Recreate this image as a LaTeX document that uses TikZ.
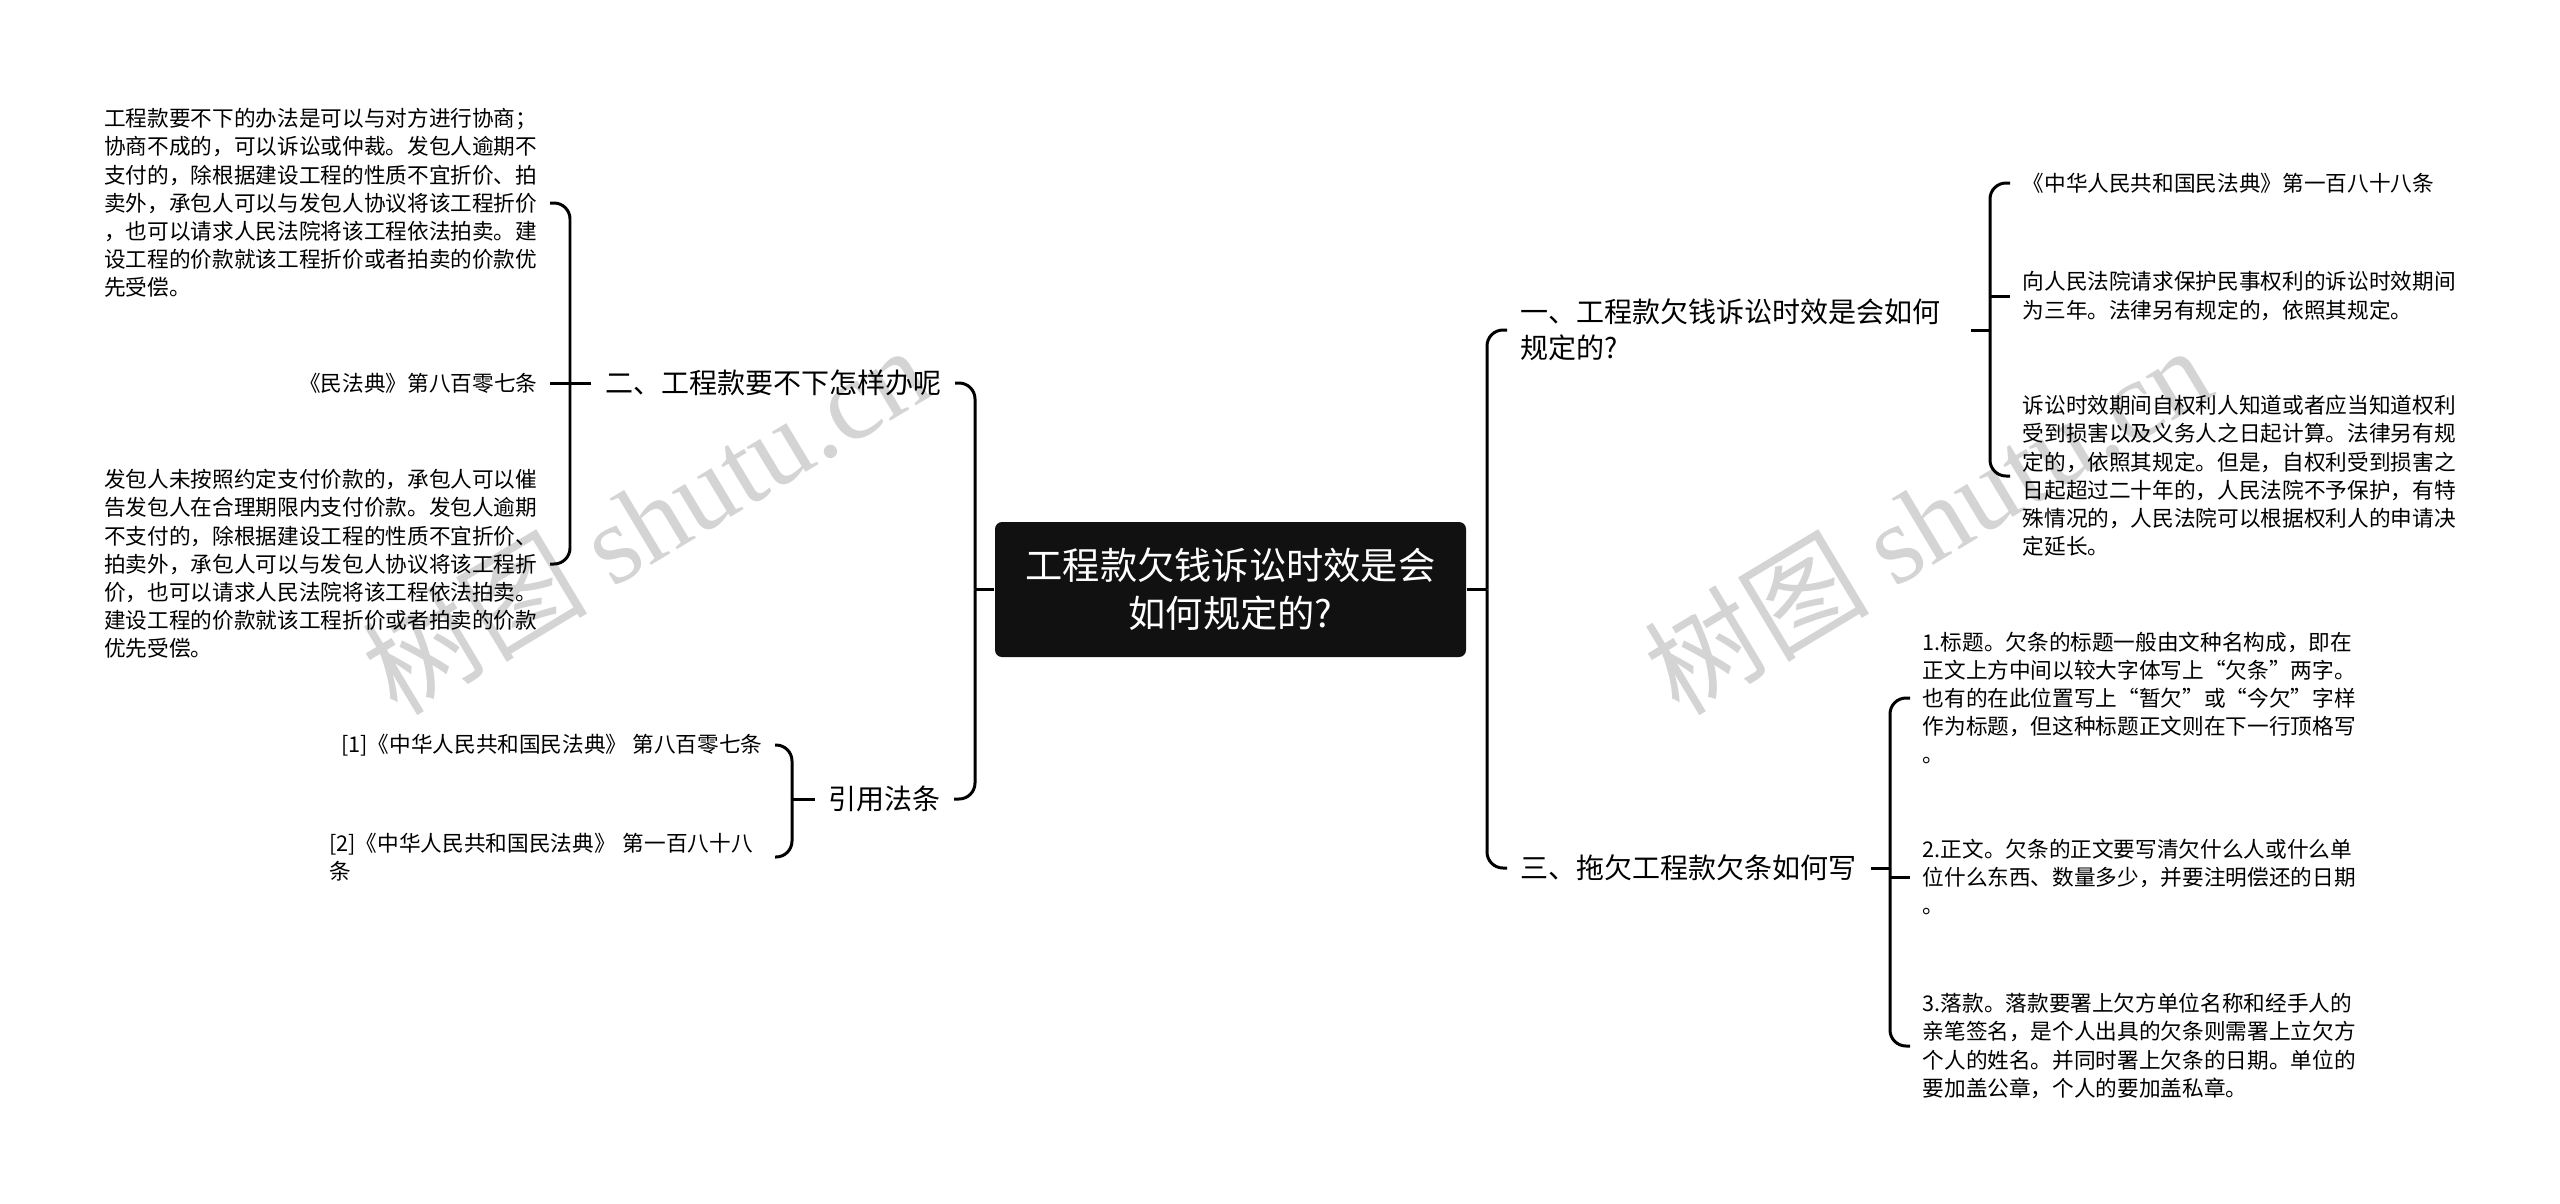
\documentclass[tikz,border=0pt]{standalone}
\usepackage{fontspec}
\newfontfamily\cjk{Noto Sans CJK SC}
\newfontfamily\wmserif{Liberation Serif}
\pgfdeclarelayer{edgelayer}
\pgfdeclarelayer{nodelayer}
\pgfsetlayers{edgelayer,nodelayer,main}
\definecolor{rootfill}{RGB}{17,17,17}
\definecolor{markgrey}{RGB}{212,212,212}
\tikzstyle{none}=[inner sep=0pt]
\tikzstyle{root}=[fill=rootfill,text=white,rounded corners=0.07cm,minimum width=4.71cm,minimum height=1.35cm,align=center,font=\cjk\fontsize{10.6}{13.66}\selectfont]
\tikzstyle{topic}=[inner xsep=0.13cm,inner ysep=0.05cm,align=left,font=\cjk\fontsize{7.97}{10.3}\selectfont]
\tikzstyle{topic left}=[topic,anchor=east]
\tikzstyle{topic right}=[topic,anchor=west]
\tikzstyle{leaf}=[inner xsep=0.12cm,inner ysep=0.04cm,align=left,font=\cjk\fontsize{6.16}{8.02}\selectfont]
\tikzstyle{leaf left}=[leaf,anchor=east]
\tikzstyle{leaf right}=[leaf,anchor=west]
\tikzstyle{branch}=[draw=black,line width=0.85pt,rounded corners=0.16cm]
\tikzstyle{wmark}=[text=markgrey,rotate=31,inner sep=0pt,font=\fontsize{32}{36}\selectfont]

\begin{document}
\begin{tikzpicture}
	\useasboundingbox (0, 0) rectangle (25.6, -12.03);
	\begin{pgfonlayer}{nodelayer}
		\node [style=root] (0) at (12.305, -5.895) {工程款欠钱诉讼时效是会\\如何规定的?};
		\node [style=topic right, text width=4.37cm] (1) at (15.07, -3.30) {一、工程款欠钱诉讼时效是会如何\\规定的?};
		\node [style=topic left] (2) at (9.55, -3.83) {二、工程款要不下怎样办呢};
		\node [style=topic right] (3) at (15.07, -8.68) {三、拖欠工程款欠条如何写};
		\node [style=topic left] (4) at (9.54, -7.99) {引用法条};
		\node [style=leaf right] (5) at (20.10, -1.83) {《中华人民共和国民法典》第一百八十八条};
		\node [style=leaf right] (6) at (20.10, -2.96) {向人民法院请求保护民事权利的诉讼时效期间\\为三年。法律另有规定的，依照其规定。};
		\node [style=leaf right] (7) at (20.10, -4.76) {诉讼时效期间自权利人知道或者应当知道权利\\受到损害以及义务人之日起计算。法律另有规\\定的，依照其规定。但是，自权利受到损害之\\日起超过二十年的，人民法院不予保护，有特\\殊情况的，人民法院可以根据权利人的申请决\\定延长。};
		\node [style=leaf left] (8) at (5.50, -2.03) {工程款要不下的办法是可以与对方进行协商；\\协商不成的，可以诉讼或仲裁。发包人逾期不\\支付的，除根据建设工程的性质不宜折价、拍\\卖外，承包人可以与发包人协议将该工程折价\\，也可以请求人民法院将该工程依法拍卖。建\\设工程的价款就该工程折价或者拍卖的价款优\\先受偿。};
		\node [style=leaf left] (9) at (5.50, -3.83) {《民法典》第八百零七条};
		\node [style=leaf left] (10) at (5.50, -5.64) {发包人未按照约定支付价款的，承包人可以催\\告发包人在合理期限内支付价款。发包人逾期\\不支付的，除根据建设工程的性质不宜折价、\\拍卖外，承包人可以与发包人协议将该工程折\\价，也可以请求人民法院将该工程依法拍卖。\\建设工程的价款就该工程折价或者拍卖的价款\\优先受偿。};
		\node [style=leaf right] (11) at (19.10, -6.98) {1.标题。欠条的标题一般由文种名构成，即在\\正文上方中间以较大字体写上“欠条”两字。\\也有的在此位置写上“暂欠”或“今欠”字样\\作为标题，但这种标题正文则在下一行顶格写\\。};
		\node [style=leaf right] (12) at (19.10, -8.77) {2.正文。欠条的正文要写清欠什么人或什么单\\位什么东西、数量多少，并要注明偿还的日期\\。};
		\node [style=leaf right] (13) at (19.10, -10.46) {3.落款。落款要署上欠方单位名称和经手人的\\亲笔签名，是个人出具的欠条则需署上立欠方\\个人的姓名。并同时署上欠条的日期。单位的\\要加盖公章，个人的要加盖私章。};
		\node [style=leaf left] (14) at (7.75, -7.45) {[1]《中华人民共和国民法典》 第八百零七条};
		\node [style=leaf left, text width=4.33cm] (15) at (7.75, -8.57) {[2]《中华人民共和国民法典》 第一百八十八\\条};
		\node [style=none] (20) at (9.75, -5.895) {};
		\node [style=none] (21) at (14.87, -5.895) {};
		\node [style=none] (22) at (19.90, -3.30) {};
		\node [style=none] (23) at (5.70, -3.83) {};
		\node [style=none] (24) at (18.90, -8.68) {};
		\node [style=none] (25) at (7.92, -7.99) {};
	\end{pgfonlayer}
	\begin{pgfonlayer}{edgelayer}
		\fill [white] (0, 0) rectangle (25.6, -12.03);
		\node [style=wmark] (30) at (6.45, -5.19) {\cjk 树图 \wmserif shutu.cn};
		\node [style=wmark] (31) at (19.27, -5.19) {\cjk 树图 \wmserif shutu.cn};
		\draw [style=branch] (0) to (20.center);
		\draw [style=branch] (20.center) |- (2.east);
		\draw [style=branch] (20.center) |- (4.east);
		\draw [style=branch] (0) to (21.center);
		\draw [style=branch] (21.center) |- (1.west);
		\draw [style=branch] (21.center) |- (3.west);
		\draw [style=branch] (1) to (22.center);
		\draw [style=branch] (22.center) |- (5.west);
		\draw [style=branch] (6.west -| 22.center) to (6.west);
		\draw [style=branch] (22.center) |- (7.west);
		\draw [style=branch] (2) to (23.center);
		\draw [style=branch] (23.center) |- (8.east);
		\draw [style=branch] (23.center) to (9);
		\draw [style=branch] (23.center) |- (10.east);
		\draw [style=branch] (3) to (24.center);
		\draw [style=branch] (24.center) |- (11.west);
		\draw [style=branch] (12.west -| 24.center) to (12.west);
		\draw [style=branch] (24.center) |- (13.west);
		\draw [style=branch] (4) to (25.center);
		\draw [style=branch] (25.center) |- (14.east);
		\draw [style=branch] (25.center) |- (15.east);
	\end{pgfonlayer}
\end{tikzpicture}
\end{document}
